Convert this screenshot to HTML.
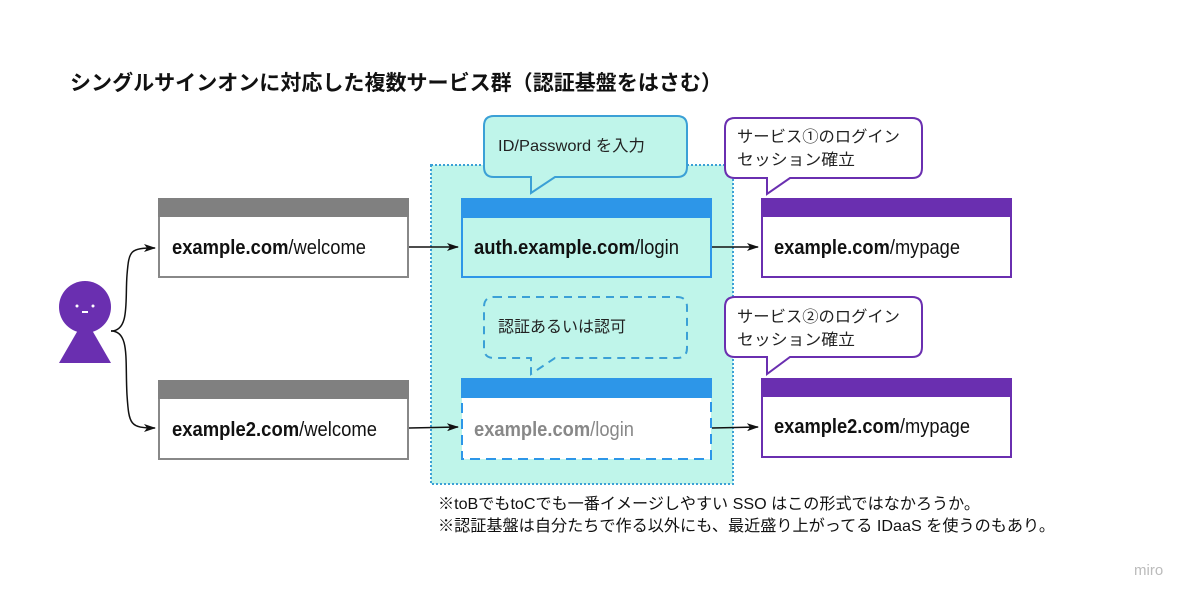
<!DOCTYPE html>
<html><head><meta charset="utf-8"><style>
html,body{margin:0;padding:0;background:#fff;}
svg{display:block;}
text{font-family:"Liberation Sans","Noto Sans CJK JP",sans-serif;}
</style></head><body>
<svg width="1200" height="602" viewBox="0 0 1200 602" xmlns="http://www.w3.org/2000/svg">
<defs>
<marker id="ar" markerWidth="12" markerHeight="8" refX="11" refY="4" orient="auto" markerUnits="userSpaceOnUse">
<path d="M0,0 L12,4 L0,8 L3,4 Z" fill="#111"/></marker>
</defs>
<text x="70" y="90" font-size="21" font-weight="bold" fill="#111" textLength="652" lengthAdjust="spacingAndGlyphs">シングルサインオンに対応した複数サービス群（認証基盤をはさむ）</text>

<rect x="431" y="165" width="302" height="319" fill="#bff5ea" stroke="#3ba0d6" stroke-width="2" stroke-dasharray="2,2"/>

<rect x="159" y="199" width="249" height="78" fill="#fff" stroke="#888" stroke-width="2"/>
<rect x="158" y="198" width="251" height="19" fill="#808080"/>
<text x="172" y="254" font-size="20" fill="#111" textLength="194" lengthAdjust="spacingAndGlyphs"><tspan font-weight="bold">example.com</tspan>/welcome</text>
<rect x="159" y="381" width="249" height="78" fill="#fff" stroke="#888" stroke-width="2"/>
<rect x="158" y="380" width="251" height="19" fill="#808080"/>
<text x="172" y="436" font-size="20" fill="#111" textLength="205" lengthAdjust="spacingAndGlyphs"><tspan font-weight="bold">example2.com</tspan>/welcome</text>

<rect x="462" y="199" width="249" height="78" fill="#bff5ea" stroke="#2d96e8" stroke-width="2"/>
<rect x="461" y="198" width="251" height="20" fill="#2d96e8"/>
<text x="474" y="254" font-size="20" fill="#111" textLength="205" lengthAdjust="spacingAndGlyphs"><tspan font-weight="bold">auth.example.com</tspan>/login</text>
<rect x="462" y="379" width="249" height="80" fill="#fff" stroke="#2d96e8" stroke-width="2" stroke-dasharray="10,6"/>
<rect x="461" y="378" width="251" height="20" fill="#2d96e8"/>
<text x="474" y="436" font-size="20" fill="#888" textLength="160" lengthAdjust="spacingAndGlyphs"><tspan font-weight="bold">example.com</tspan>/login</text>

<rect x="762" y="199" width="249" height="78" fill="#fff" stroke="#6a2fb0" stroke-width="2"/>
<rect x="761" y="198" width="251" height="19" fill="#6a2fb0"/>
<text x="774" y="254" font-size="20" fill="#111" textLength="186" lengthAdjust="spacingAndGlyphs"><tspan font-weight="bold">example.com</tspan>/mypage</text>
<rect x="762" y="379" width="249" height="78" fill="#fff" stroke="#6a2fb0" stroke-width="2"/>
<rect x="761" y="378" width="251" height="19" fill="#6a2fb0"/>
<text x="774" y="433" font-size="20" fill="#111" textLength="196" lengthAdjust="spacingAndGlyphs"><tspan font-weight="bold">example2.com</tspan>/mypage</text>

<path d="M494,116 H677 Q687,116 687,126 V167 Q687,177 677,177 H555 L531,193 L531,177 H494 Q484,177 484,167 V126 Q484,116 494,116 Z" fill="#bff5ea" stroke="#3ba0d6" stroke-width="2"/>
<text x="498" y="151" font-size="16" fill="#222" textLength="147" lengthAdjust="spacingAndGlyphs">ID/Password を入力</text>
<path d="M494,297 H677 Q687,297 687,307 V348 Q687,358 677,358 H555 L531,374 L531,358 H494 Q484,358 484,348 V307 Q484,297 494,297 Z" fill="#bff5ea" stroke="#3ba0d6" stroke-width="2" stroke-dasharray="8,6"/>
<text x="498" y="332" font-size="16" fill="#222">認証あるいは認可</text>
<path d="M735,118 H912 Q922,118 922,128 V168 Q922,178 912,178 H790 L767,194 L767,178 H735 Q725,178 725,168 V128 Q725,118 735,118 Z" fill="#fff" stroke="#6a2fb0" stroke-width="2"/>
<text x="737" y="142" font-size="16" fill="#222" textLength="163" lengthAdjust="spacingAndGlyphs">サービス①のログイン</text>
<text x="737" y="165" font-size="16" fill="#222" textLength="118" lengthAdjust="spacingAndGlyphs">セッション確立</text>
<path d="M735,297 H912 Q922,297 922,307 V347 Q922,357 912,357 H790 L767,374 L767,357 H735 Q725,357 725,347 V307 Q725,297 735,297 Z" fill="#fff" stroke="#6a2fb0" stroke-width="2"/>
<text x="737" y="322" font-size="16" fill="#222" textLength="163" lengthAdjust="spacingAndGlyphs">サービス②のログイン</text>
<text x="737" y="345" font-size="16" fill="#222" textLength="118" lengthAdjust="spacingAndGlyphs">セッション確立</text>

<circle cx="85" cy="307" r="26" fill="#6a2fb0"/>
<path d="M85,318 L111,363 L59,363 Z" fill="#6a2fb0"/>
<circle cx="77" cy="306" r="1.5" fill="#fff"/><circle cx="93" cy="306" r="1.5" fill="#fff"/>
<rect x="82" y="311" width="6" height="2" fill="#fff"/>

<path d="M111,331 C130,331 125,300 127,275 C129,250 130,248 155,248" fill="none" stroke="#111" stroke-width="1.5" marker-end="url(#ar)"/>
<path d="M111,331 C130,331 125,360 127,395 C129,425 130,428 155,428" fill="none" stroke="#111" stroke-width="1.5" marker-end="url(#ar)"/>
<line x1="409" y1="247" x2="458" y2="247" stroke="#111" stroke-width="1.5" marker-end="url(#ar)"/>
<line x1="409" y1="428" x2="458" y2="427" stroke="#111" stroke-width="1.5" marker-end="url(#ar)"/>
<line x1="712" y1="247" x2="758" y2="247" stroke="#111" stroke-width="1.5" marker-end="url(#ar)"/>
<line x1="712" y1="428" x2="758" y2="427" stroke="#111" stroke-width="1.5" marker-end="url(#ar)"/>

<text x="438" y="509" font-size="16" fill="#111" textLength="542" lengthAdjust="spacingAndGlyphs">※toBでもtoCでも一番イメージしやすい SSO はこの形式ではなかろうか。</text>
<text x="438" y="531" font-size="16" fill="#111" textLength="617" lengthAdjust="spacingAndGlyphs">※認証基盤は自分たちで作る以外にも、最近盛り上がってる IDaaS を使うのもあり。</text>
<text x="1134" y="575" font-size="15" fill="#bbb">miro</text>
</svg>
</body></html>
